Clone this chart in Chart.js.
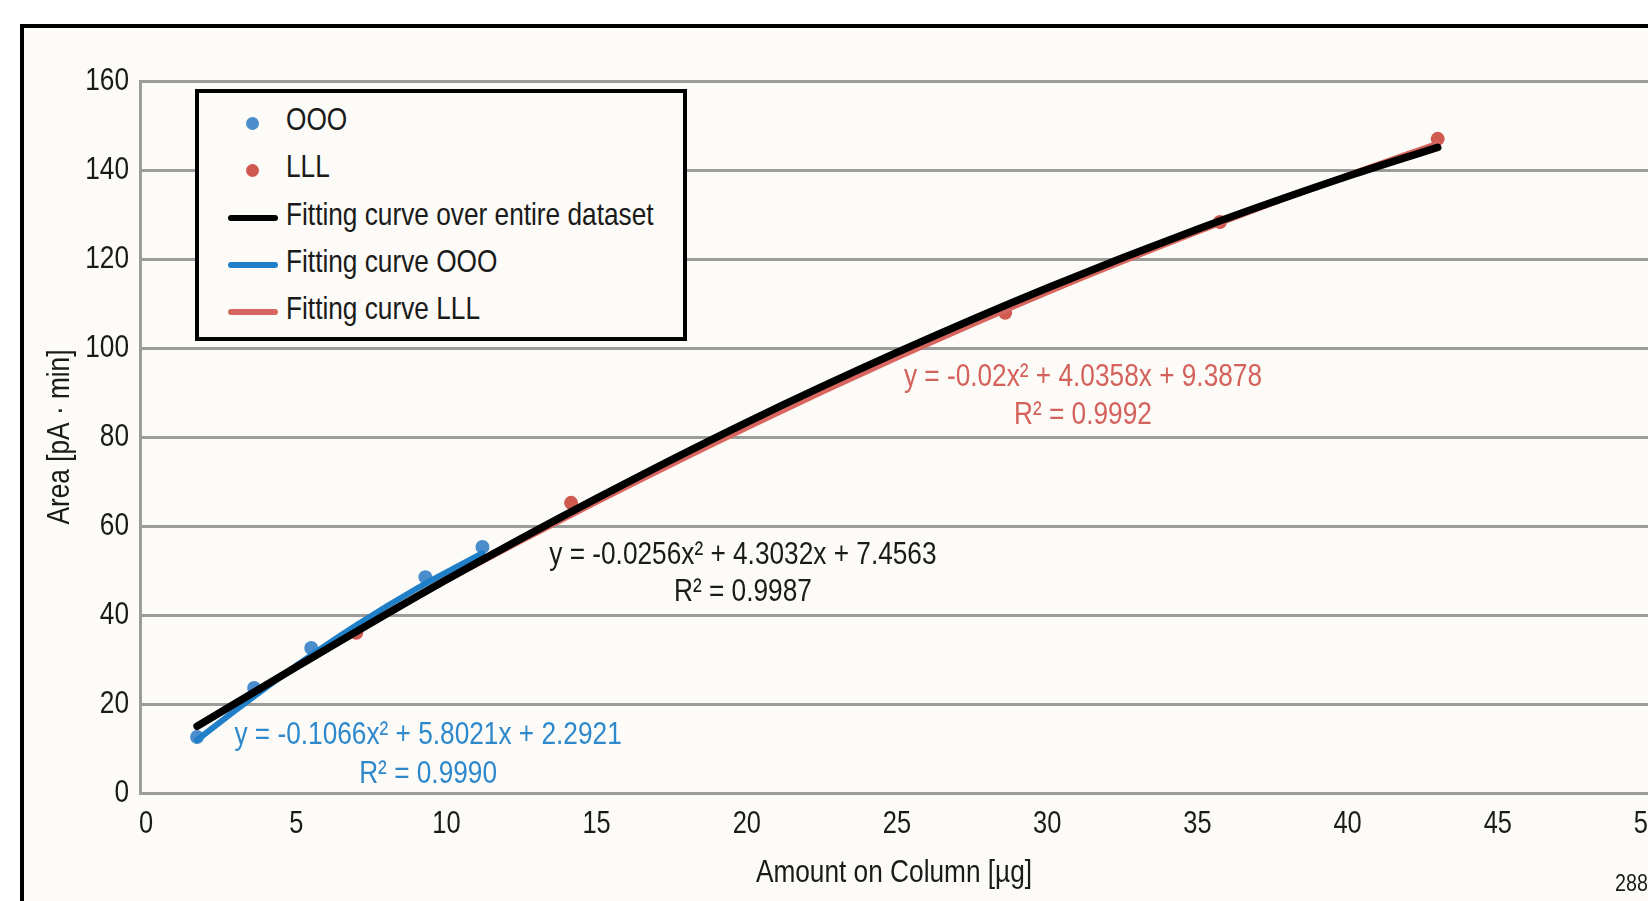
<!DOCTYPE html>
<html><head><meta charset="utf-8">
<script src="https://cdn.jsdelivr.net/npm/chart.js@4.4.0/dist/chart.umd.min.js"></script>
<style>
html,body{margin:0;padding:0;background:#fff;overflow:hidden;width:1648px;height:901px;position:relative;}
#frame{position:absolute;left:20px;top:24px;width:1700px;height:1000px;border-left:4px solid #000;border-top:4px solid #000;background:#fcfbf7;}
#c{position:absolute;left:0;top:0;}
#legend{position:absolute;left:195px;top:89px;width:492px;height:252px;box-sizing:border-box;border:4px solid #000;background:#fcfbf7;
  font-family:"Liberation Sans",Arial,sans-serif;font-size:32px;color:#1a1a1a;}
.row{position:absolute;left:0;width:480px;height:40px;line-height:40px;}
.row .txt{position:absolute;left:87px;top:-4px;white-space:nowrap;transform:scaleX(0.82);transform-origin:0 50%;}
.row .dot{position:absolute;left:47px;top:14px;width:13px;height:13px;border-radius:50%;}
.row .ln{position:absolute;left:29px;top:17px;width:50px;height:6px;border-radius:3px;}
#code{position:absolute;left:1615px;top:870px;font-family:"Liberation Sans",Arial,sans-serif;font-size:24px;line-height:26px;color:#1a1a1a;transform:scaleX(0.82);transform-origin:0 50%;}
</style></head>
<body>
<div id="frame"></div>
<canvas id="c" width="1700" height="901"></canvas>
<div id="legend"></div>
<div id="code">2880</div>
<script>
// ---- data ----
const xTickValues = [0, 5, 10, 15, 20, 25, 30, 35, 40, 45, 50];
const yTickValues = [0, 20, 40, 60, 80, 100, 120, 140, 160];

const seriesLabels = ['OOO', 'LLL', 'Fitting curve over entire dataset', 'Fitting curve OOO', 'Fitting curve LLL'];

const oooX = [1.7, 3.6, 5.5, 9.3, 11.2];
const oooY = [12.6, 23.6, 32.6, 48.5, 55.3];
const lllX = [7.0, 14.15, 28.6, 35.75, 43.0];
const lllY = [36.0, 65.2, 107.9, 128.3, 147.0];

const fitAllX = [1.7, 5, 10, 15, 20, 25, 30, 35, 40, 43];
const fitAllY = [15.0, 28.3, 47.9, 66.2, 83.3, 99.0, 113.5, 126.7, 138.6, 145.1];
const fitOOOX = [1.7, 3, 5, 7, 9, 11.2];
const fitOOOY = [11.9, 18.7, 28.6, 37.7, 45.9, 53.9];
const fitLLLX = [7, 10, 15, 20, 25, 30, 35, 40, 43];
const fitLLLY = [36.7, 47.8, 65.4, 82.1, 97.8, 112.5, 126.1, 138.8, 146.0];

const eqTexts = [
  ['y = -0.0256x² + 4.3032x + 7.4563', 'R² = 0.9987'],
  ['y = -0.02x² + 4.0358x + 9.3878', 'R² = 0.9992'],
  ['y = -0.1066x² + 5.8021x + 2.2921', 'R² = 0.9990']
];
const eqX = [19.87, 31.19, 9.39];
const eqY1 = [53.5, 93.5, 13.0];
const eqY2 = [45.05, 84.9, 4.27];

const xTitle = 'Amount on Column [µg]';
const yTitle = 'Area [pA · min]';

// ---- styling ----
const FONT = '"Liberation Sans", Arial, sans-serif';
const NARROW = 0.82; // horizontal squeeze to mimic the condensed face of the original
const BLUE_PT = '#4a8ccc', RED_PT = '#d05a50';
const BLUE_LN = '#1f7fc8', RED_LN = '#d6665e', BLACK_LN = '#000000';
const EQ_COLORS = ['#1a1a1a', '#d4615b', '#2e88cc'];
const GRID = '#9c9c9c';

const zip = (xs, ys) => xs.map((x, i) => ({x, y: ys[i]}));

// condensed text rendering on the chart canvas
const canvas = document.getElementById('c');
const cctx = canvas.getContext('2d');
const origFill = cctx.fillText.bind(cctx);
const origMeasure = cctx.measureText.bind(cctx);
cctx.fillText = function (text, x, y, maxWidth) {
  this.save();
  this.translate(x, y);
  this.scale(NARROW, 1);
  if (maxWidth !== undefined) origFill(text, 0, 0, maxWidth / NARROW); else origFill(text, 0, 0);
  this.restore();
};
cctx.measureText = function (text) {
  const m = origMeasure(text);
  return {width: m.width * NARROW, actualBoundingBoxAscent: m.actualBoundingBoxAscent,
          actualBoundingBoxDescent: m.actualBoundingBoxDescent,
          actualBoundingBoxLeft: m.actualBoundingBoxLeft * NARROW,
          actualBoundingBoxRight: m.actualBoundingBoxRight * NARROW};
};

const datasets = [
  {label: seriesLabels[0], data: zip(oooX, oooY), showLine: false, pointRadius: 7, pointHoverRadius: 7,
   backgroundColor: BLUE_PT, borderColor: BLUE_PT, borderWidth: 0, order: 3, kind: 'dot'},
  {label: seriesLabels[1], data: zip(lllX, lllY), showLine: false, pointRadius: 7, pointHoverRadius: 7,
   backgroundColor: RED_PT, borderColor: RED_PT, borderWidth: 0, order: 4, kind: 'dot'},
  {label: seriesLabels[2], data: zip(fitAllX, fitAllY), showLine: true, pointRadius: 0, borderColor: BLACK_LN,
   backgroundColor: BLACK_LN, borderWidth: 7.5, cubicInterpolationMode: 'monotone', borderCapStyle: 'round', order: 0, kind: 'line'},
  {label: seriesLabels[3], data: zip(fitOOOX, fitOOOY), showLine: true, pointRadius: 0, borderColor: BLUE_LN,
   backgroundColor: BLUE_LN, borderWidth: 6, cubicInterpolationMode: 'monotone', borderCapStyle: 'round', order: 1, kind: 'line'},
  {label: seriesLabels[4], data: zip(fitLLLX, fitLLLY), showLine: true, pointRadius: 0, borderColor: RED_LN,
   backgroundColor: RED_LN, borderWidth: 5.5, cubicInterpolationMode: 'monotone', borderCapStyle: 'round', order: 2, kind: 'line'}
];

const equationPlugin = {
  id: 'equations',
  afterDatasetsDraw(chart) {
    const {ctx, scales: {x, y}} = chart;
    ctx.save();
    ctx.font = '32px ' + FONT;
    ctx.textAlign = 'center';
    ctx.textBaseline = 'middle';
    eqTexts.forEach((lines, i) => {
      ctx.fillStyle = EQ_COLORS[i];
      const px = x.getPixelForValue(eqX[i]);
      ctx.fillText(lines[0], px, y.getPixelForValue(eqY1[i]));
      ctx.fillText(lines[1], px, y.getPixelForValue(eqY2[i]));
    });
    ctx.restore();
  }
};

const chart = new Chart(canvas, {
  type: 'scatter',
  data: {datasets},
  options: {
    responsive: false,
    animation: false,
    events: [],
    layout: {padding: {left: 0, top: 81, right: 52, bottom: 0}},
    plugins: {legend: {display: false}, tooltip: {enabled: false}},
    scales: {
      x: {
        type: 'linear', min: -0.2, max: 50,
        afterBuildTicks: s => { s.ticks = xTickValues.map(v => ({value: v})); },
        afterFit: s => { s.height = 108; },
        grid: {display: false, drawTicks: false},
        border: {display: true, color: GRID, width: 3},
        ticks: {autoSkip: false, maxRotation: 0, padding: 13, color: '#1a1a1a', font: {family: FONT, size: 31}},
        title: {display: true, text: xTitle, color: '#1a1a1a', font: {family: FONT, size: 32}, padding: {top: 0, bottom: 9}}
      },
      y: {
        type: 'linear', min: 0, max: 160,
        afterBuildTicks: s => { s.ticks = yTickValues.map(v => ({value: v})); },
        afterFit: s => { s.width = 140; },
        grid: {display: true, color: GRID, lineWidth: 3, drawTicks: false},
        border: {display: true, color: GRID, width: 3},
        ticks: {padding: 11, color: '#1a1a1a', font: {family: FONT, size: 32}},
        title: {display: true, text: yTitle, color: '#1a1a1a', font: {family: FONT, size: 32}, padding: {top: 41, bottom: 0}}
      }
    }
  },
  plugins: [equationPlugin]
});

// ---- HTML legend built from the datasets ----
const legend = document.getElementById('legend');
chart.data.datasets.forEach((ds, i) => {
  const row = document.createElement('div');
  row.className = 'row';
  row.style.top = (30 + i * 47.3 - 20) + 'px';
  const sym = document.createElement('div');
  if (ds.kind === 'dot') {
    sym.className = 'dot';
    sym.style.background = ds.backgroundColor;
  } else {
    sym.className = 'ln';
    sym.style.background = ds.borderColor;
  }
  row.appendChild(sym);
  const t = document.createElement('span');
  t.className = 'txt';
  t.textContent = ds.label;
  row.appendChild(t);
  legend.appendChild(row);
});
</script>
</body></html>
